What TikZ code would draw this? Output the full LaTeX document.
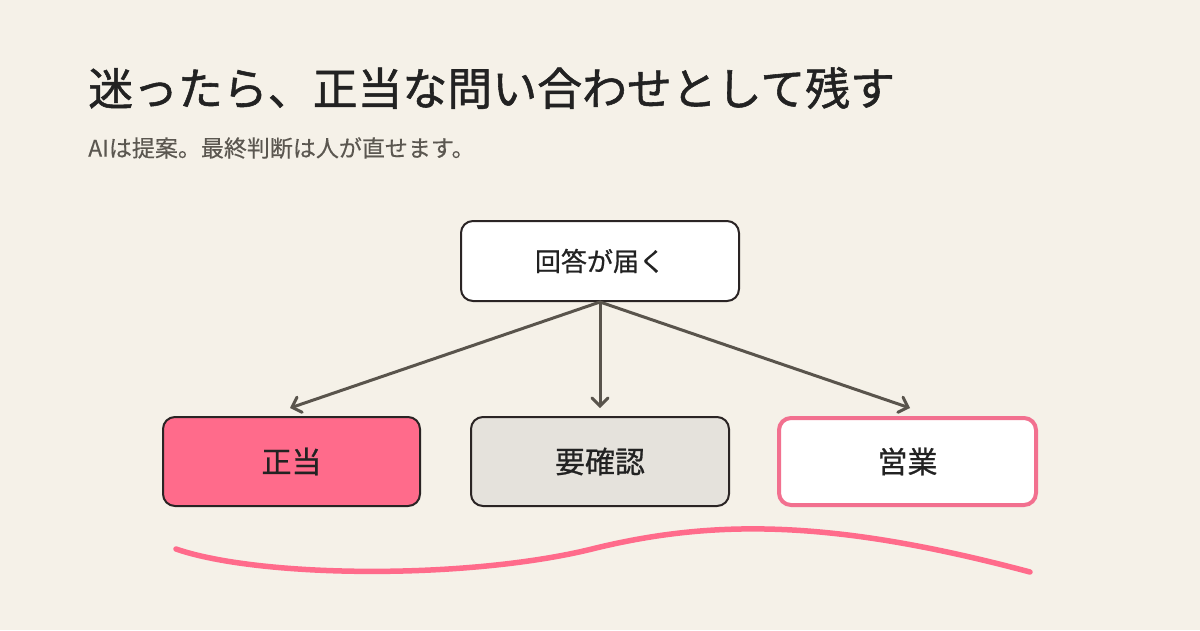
\documentclass[tikz,border=0pt]{standalone}
\usepackage{fontspec}
\setmainfont{Noto Sans CJK JP}
\newfontfamily\titlefont[FakeBold=1.2]{Noto Sans CJK JP}
\newfontfamily\labelfont[FakeBold=0.7]{Noto Sans CJK JP}
\newfontfamily\subfont[FakeBold=0.3]{Noto Sans CJK JP}
\usetikzlibrary{arrows.meta}
\definecolor{bg}{HTML}{F5F1E8}
\definecolor{ink}{HTML}{222222}
\definecolor{sub}{HTML}{5B5750}
\definecolor{edge}{HTML}{59544C}
\definecolor{pink}{HTML}{FF6B8B}
\definecolor{pinkline}{HTML}{F2708F}
\definecolor{greyfill}{HTML}{E5E2DC}
\definecolor{boxline}{HTML}{2A2424}
\tikzset{
  box/.style={rounded corners=12pt, line width=2pt, draw=boxline, text=ink, inner sep=0pt},
  arr/.style={draw=edge, line width=3pt, -{Straight Barb[length=8pt,width=16pt,line cap=round]}, line cap=round},
}
\begin{document}
\begin{tikzpicture}[x=1pt,y=-1pt]
\fill[bg] (0,0) rectangle (1200,630);
\useasboundingbox (0,0) rectangle (1200,630);
\node[anchor=west, text=ink, inner sep=0pt, font=\titlefont\fontsize{44.9}{50}\selectfont] (title) at (88,88) {迷ったら、正当な問い合わせとして残す};
\node[anchor=west, text=sub, inner sep=0pt, font=\subfont\fontsize{23}{27}\selectfont] (subtitle) at (88,148) {AIは提案。最終判断は人が直せます。};
\node[box, fill=white, minimum width=278pt, minimum height=80pt, font=\labelfont\fontsize{26}{30}\selectfont] (top) at (600,261) {回答が届く};
\node[box, fill=pink, minimum width=257pt, minimum height=89pt, font=\labelfont\fontsize{30}{34}\selectfont] (b1) at (291.5,461.5) {正当};
\node[box, fill=greyfill, minimum width=258pt, minimum height=89pt, font=\labelfont\fontsize{30}{34}\selectfont] (b2) at (600,461.5) {要確認};
\node[box, fill=white, draw=pinkline, line width=4pt, minimum width=257pt, minimum height=87pt, font=\labelfont\fontsize{30}{34}\selectfont] (b3) at (907.5,461.5) {営業};
\coordinate (t1) at (290,408);
\coordinate (t2) at (600,408);
\coordinate (t3) at (910,408);
\draw[arr] (top.south) -- (t1);
\draw[arr] (top.south) -- (t2);
\draw[arr] (top.south) -- (t3);
\draw[pink, line width=5.5pt, line cap=round] (176,549) .. controls (260,578) and (470,580) .. (596,548) .. controls (716,519) and (835,520) .. (1030,572);
\end{tikzpicture}
\end{document}
